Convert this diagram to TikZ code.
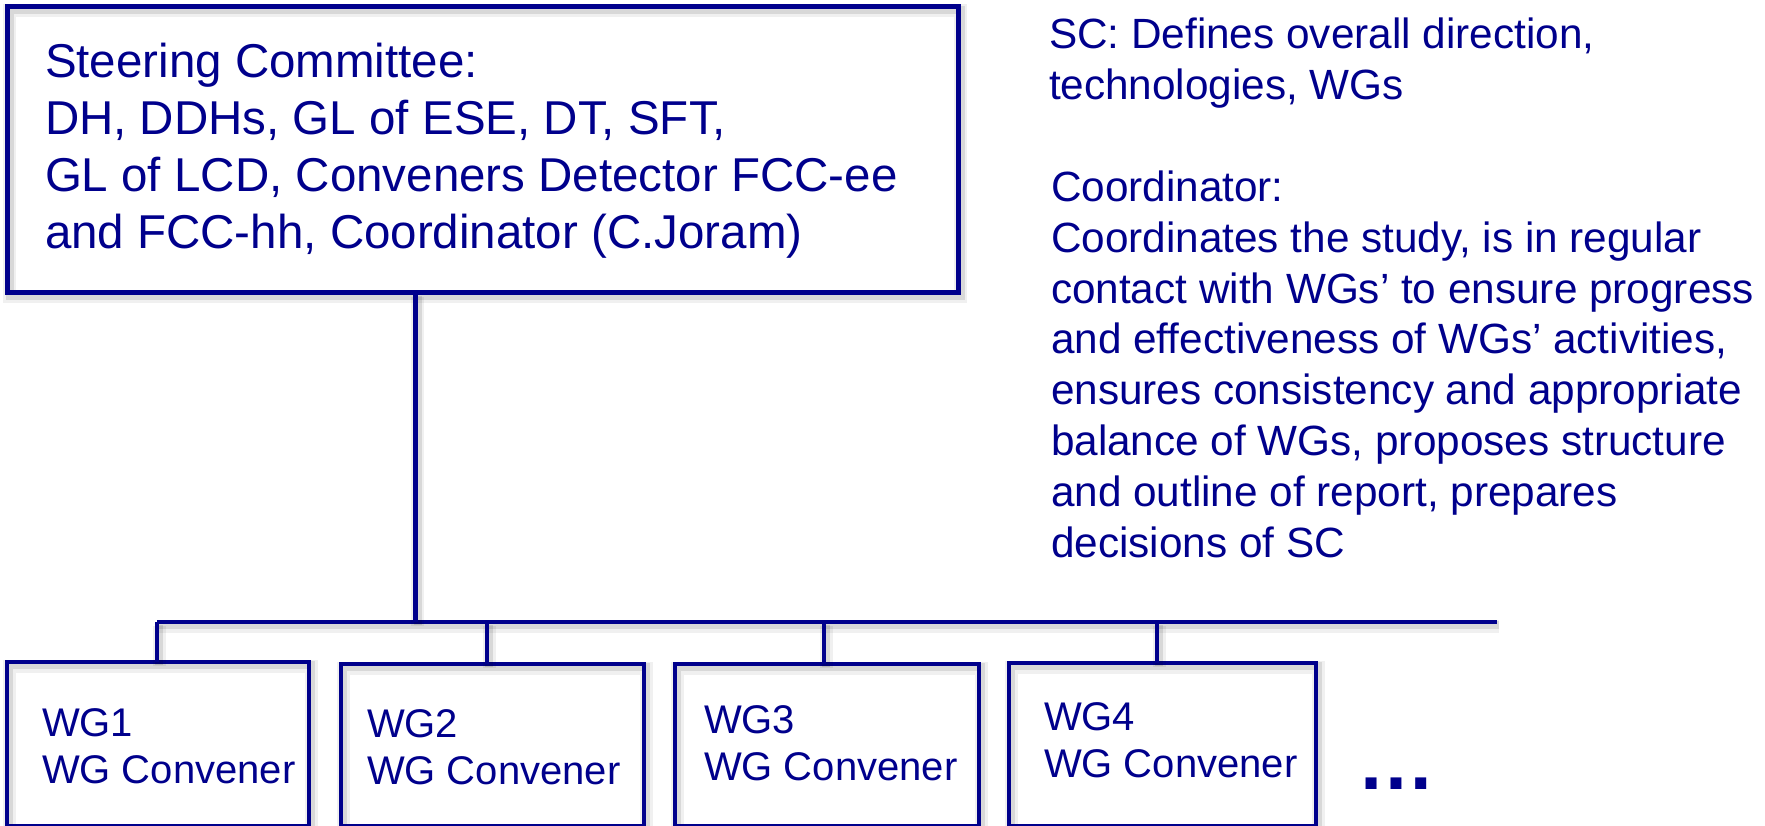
\documentclass[tikz,border=0pt]{standalone}
\usepackage{fontspec}
\setmainfont{Liberation Sans}
\definecolor{navy}{RGB}{0,0,140}
\begin{document}
\begin{tikzpicture}[x=1pt,y=-1pt,
  shad/.style={
    preaction={draw=black,draw opacity=.06,line width=13pt,
      transform canvas={xshift=2pt,yshift=-4pt}},
    preaction={draw=black,draw opacity=.10,line width=8pt,
      transform canvas={xshift=2pt,yshift=-3pt}}},
  box/.style={draw=navy,line width=4.8pt,rectangle,inner sep=0pt,outer sep=0pt,anchor=north west,shad},
  wire/.style={draw=navy,line width=4.4pt,shad},
  txt/.style={text=navy,inner sep=0pt,outer sep=0pt,anchor=base west,align=left},
  bigtxt/.style={txt,font=\fontsize{47.5}{57}\selectfont},
  sidetxt/.style={txt,font=\fontsize{42.3}{50.8}\selectfont},
  wgtxt/.style={txt,font=\fontsize{40}{47}\selectfont}]
\useasboundingbox (0,0) rectangle (1765,825);
\clip (0,0) rectangle (1765,825);
% boxes
\node[box,minimum width=951pt,minimum height=286pt] (sc) at (7.5,6.5) {};
\node[box,minimum width=302pt,minimum height=164pt] (wg1) at (7,662) {};
\node[box,minimum width=303pt,minimum height=162pt] (wg2) at (341,664) {};
\node[box,minimum width=304pt,minimum height=162pt] (wg3) at (675,664) {};
\node[box,minimum width=307pt,minimum height=163pt] (wg4) at (1009,663) {};
% bus
\coordinate (busL) at (157,622);
\coordinate (busR) at (1497,622);
\coordinate (busM) at (415.5,622);
\draw[wire] (busL) -- (busR);
\draw[wire] (busM |- sc.south) -- (busM);
\draw[wire] ([xshift=-1pt]wg1.north) -- ([xshift=-1pt]wg1.north |- busL);
\draw[wire] ([xshift=-5.5pt]wg2.north) -- ([xshift=-5.5pt]wg2.north |- busL);
\draw[wire] ([xshift=-3pt]wg3.north) -- ([xshift=-3pt]wg3.north |- busL);
\draw[wire] ([xshift=-5.5pt]wg4.north) -- ([xshift=-5.5pt]wg4.north |- busL);
% texts (anchored at the baseline of the last line)
\node[bigtxt] (sctext) at (45,248) {Steering Committee:\\DH, DDHs, GL of ESE, DT, SFT,\\GL of LCD, Conveners Detector FCC-ee\\and FCC-hh, Coordinator (C.Joram)};
\node[sidetxt] (scdesc) at (1049,99) {SC: Defines overall direction,\\technologies, WGs};
\node[sidetxt] (coord) at (1051,557) {Coordinator:\\Coordinates the study, is in regular\\contact with WGs’ to ensure progress\\and effectiveness of WGs’ activities,\\ensures consistency and appropriate\\balance of WGs, proposes structure\\and outline of report, prepares\\decisions of SC};
\node[wgtxt] (t1) at (42,783) {WG1\\WG Convener};
\node[wgtxt] (t2) at (367,784) {WG2\\WG Convener};
\node[wgtxt] (t3) at (704,780) {WG3\\WG Convener};
\node[wgtxt] (t4) at (1044,777) {WG4\\WG Convener};
\node[txt,font=\bfseries\fontsize{78}{80}\selectfont] (dots) at (1357,789) {…};
\end{tikzpicture}
\end{document}
